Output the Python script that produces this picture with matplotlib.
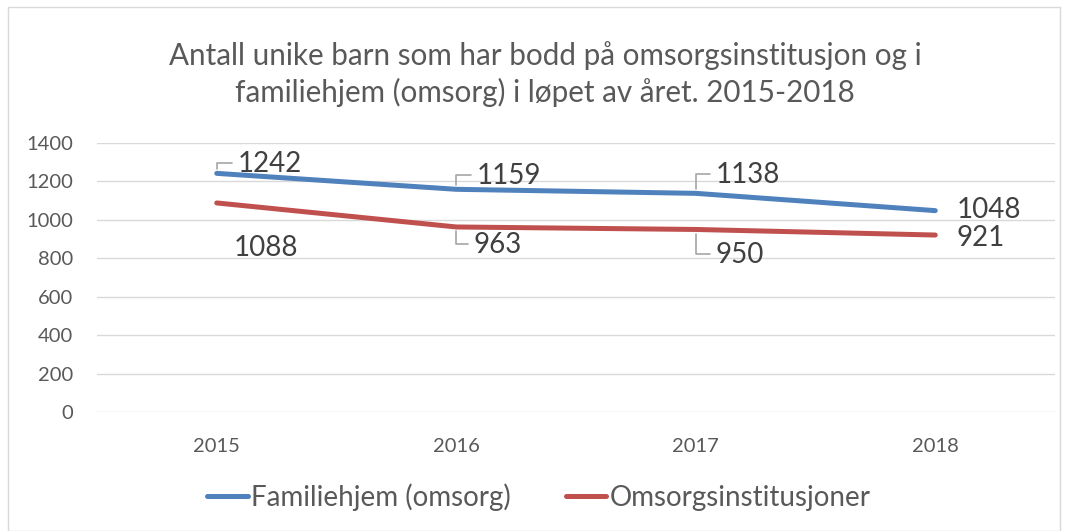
import matplotlib
matplotlib.use("Agg")
import matplotlib.pyplot as plt
from matplotlib.patches import Rectangle

years = ["2015", "2016", "2017", "2018"]
familiehjem = [1242, 1159, 1138, 1048]
institusjoner = [1088, 963, 950, 921]
yticks = [0, 200, 400, 600, 800, 1000, 1200, 1400]
title = "Antall unike barn som har bodd på omsorgsinstitusjon og i\nfamiliehjem (omsorg) i løpet av året. 2015-2018"

plt.rcParams['font.family'] = ['Lato', 'DejaVu Sans']

W, H = 1068, 531
fig = plt.figure(figsize=(W / 100, H / 100), dpi=100)
fig.patches.append(Rectangle((8 / W, 0), (1060 - 8) / W, (531 - 7) / H, transform=fig.transFigure,
                             fill=False, edgecolor='#D9D9D9', lw=1))

ax = fig.add_axes([97 / W, (H - 412) / H, (1055 - 97) / W, (412 - 143) / H])
x = list(range(len(years)))
blue, red = '#4F81BD', '#C0504D'
ax.plot(x, familiehjem, color=blue, lw=3.6, solid_capstyle='round', label='Familiehjem (omsorg)')
ax.plot(x, institusjoner, color=red, lw=3.6, solid_capstyle='round', label='Omsorgsinstitusjoner')

ax.set_xlim(-0.5, len(years) - 0.5)
ax.set_ylim(0, 1400)
ax.set_yticks(yticks)
ax.set_xticks(x)
ax.set_xticklabels(years)
ax.grid(axis='y', color='#D9D9D9', lw=1)
ax.set_axisbelow(True)
for s in ax.spines.values():
    s.set_visible(False)
ax.tick_params(axis='both', length=0, colors='#595959', labelsize=14.5)
ax.tick_params(axis='y', pad=17)
ax.tick_params(axis='x', pad=19)

lab_col = '#404040'
fs = 20
leader = dict(arrowstyle='-', color='#A6A6A6', lw=1.2, shrinkA=2, shrinkB=3,
              connectionstyle='angle,angleA=0,angleB=90,rad=0', relpos=(0, 0.55))
# (offset in pixels, leader?)
fam_off = [((21, 9), True), ((20, 13), True), ((20, 18), True), ((21, 1), False)]
inst_off = [((17, -45), False), ((17, -18), True), ((20, -26), True), ((21, -3), False)]
for i, v in enumerate(familiehjem):
    off, ld = fam_off[i]
    ax.annotate(str(v), (x[i], v), xytext=off, textcoords='offset pixels', ha='left', va='center',
                fontsize=fs, color=lab_col, arrowprops=leader if ld else None)
for i, v in enumerate(institusjoner):
    off, ld = inst_off[i]
    ax.annotate(str(v), (x[i], v), xytext=off, textcoords='offset pixels', ha='left', va='center',
                fontsize=fs, color=lab_col, arrowprops=leader if ld else None)

fig.text(545 / W, 1 - 74 / H, title, ha='center', va='center', fontsize=21.3, color='#595959',
         linespacing=1.3)

fig.legend(loc='center', bbox_to_anchor=(539 / W, 1 - 497 / H), ncol=2, frameon=False,
           fontsize=20, labelcolor='#595959', handlelength=1.45, handletextpad=0.12, columnspacing=2.0)

fig.savefig('out.png', dpi=100)
